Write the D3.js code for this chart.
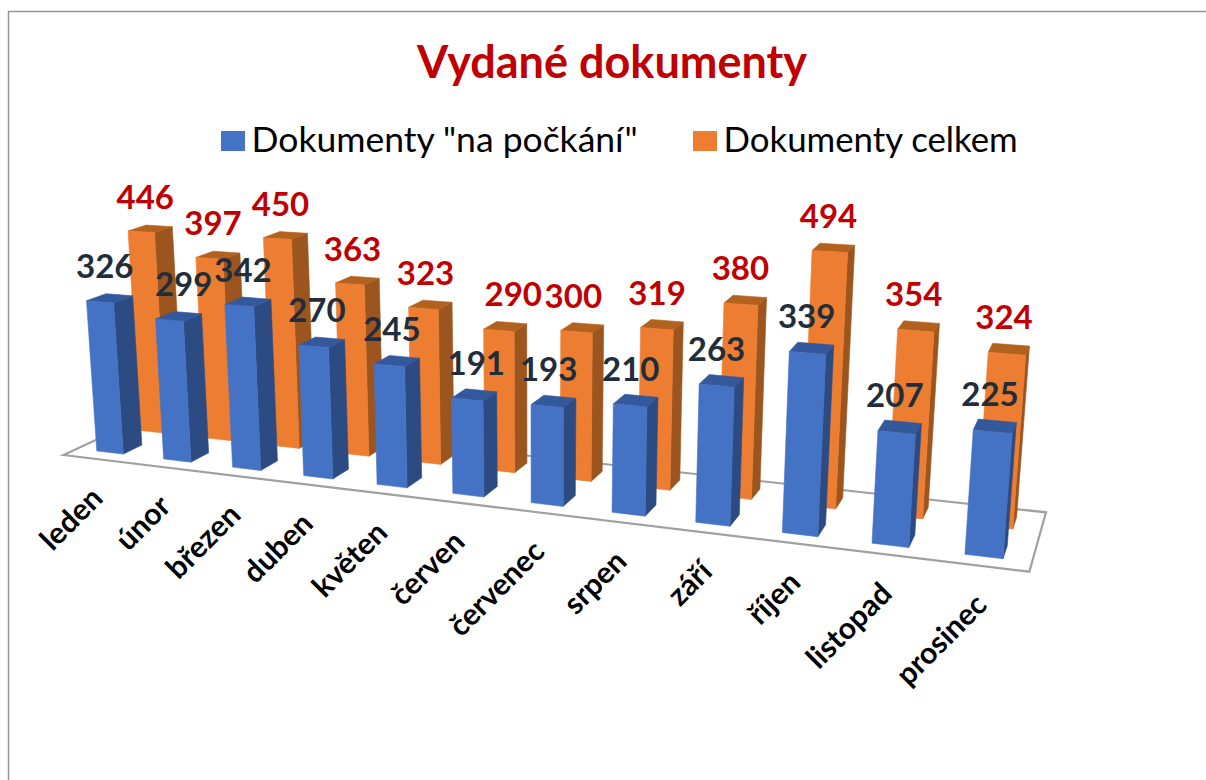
<!DOCTYPE html>
<html>
<head>
<meta charset="utf-8">
<script src="https://cdn.jsdelivr.net/npm/d3@7"></script>
<style>
  body { margin: 0; background: #fff; }
  text { font-family: Lato, sans-serif; }
</style>
</head>
<body>
<svg></svg>
<script>
// Data
const months = ["leden", "únor", "březen", "duben", "květen", "červen", "červenec", "srpen", "září", "říjen", "listopad", "prosinec"];
const seriesNames = ['Dokumenty "na počkání"', "Dokumenty celkem"];
const onDemand = [326, 299, 342, 270, 245, 191, 193, 210, 263, 339, 207, 225];
const total = [446, 397, 450, 363, 323, 290, 300, 319, 380, 494, 354, 324];

const width = 1206;
const height = 780;

const svg = d3.select("svg")
  .attr("width", width)
  .attr("height", height);

// Scales: position along the floor, depth into the floor, bar height
const x = d3.scaleBand().domain(months).range([0, 1]).paddingInner(0.6).paddingOuter(0.3);
const depth = d3.scaleBand().domain(seriesNames).range([0, 1]).paddingInner(0.576).paddingOuter(0.298);
const h = d3.scaleLinear().domain([0, 500]).range([0, 232]);

// Perspective floor: unit square -> four corners of the grey quad
const floor = [[63.3, 455], [1029.3, 571.7], [1046, 512.3], [151, 414.5]];
const vanish = [538, 6900];

const [p0, p1, p2, p3] = floor;
const dx1 = p1[0] - p2[0], dx2 = p3[0] - p2[0], sx = p0[0] - p1[0] + p2[0] - p3[0];
const dy1 = p1[1] - p2[1], dy2 = p3[1] - p2[1], sy = p0[1] - p1[1] + p2[1] - p3[1];
const den = dx1 * dy2 - dx2 * dy1;
const g = (sx * dy2 - dx2 * sy) / den;
const k = (dx1 * sy - sx * dy1) / den;

// u, v on the floor, value above it -> pixel
function project(u, v, value) {
  const w = g * u + k * v + 1;
  const px = (p1[0] - p0[0] + g * p1[0]) * u + (p3[0] - p0[0] + k * p3[0]) * v + p0[0];
  const py = (p1[1] - p0[1] + g * p1[1]) * u + (p3[1] - p0[1] + k * p3[1]) * v + p0[1];
  const fx = px / w, fy = py / w;
  const len = Math.hypot(fx - vanish[0], fy - vanish[1]);
  // heights shrink a bit less with depth than the floor does
  const rise = h(value) / (g * u + 0.75 * k * v + 1);
  return [fx + (fx - vanish[0]) / len * rise, fy + (fy - vanish[1]) / len * rise];
}

const poly = pts => d3.line()(pts) + "Z";

const styles = [
  { front: "#4472c4", side: "#2c4b83", top: "#34589c", label: "#222d3b", values: onDemand },
  { front: "#ed7d31", side: "#9c551f", top: "#b3611f", label: "#c00000", values: total }
];

// Labels that were dragged sideways in the original
const labelShift = { 299: 10, 290: 13, 191: 7, 300: -4 };

// Floor
svg.append("path")
  .attr("d", poly(floor))
  .attr("fill", "none")
  .attr("stroke", "#a0a0a0")
  .attr("stroke-width", 2.2);

// Back row first so the front row covers it
const bars = svg.append("g");
const labels = svg.append("g");

function face(parent, color, pts) {
  parent.append("path")
    .attr("fill", color)
    .attr("stroke", color)
    .attr("stroke-width", 0.6)
    .attr("d", poly(pts));
}

[1, 0].forEach(s => {
  const st = styles[s];
  const v0 = depth(seriesNames[s]);
  const v1 = v0 + depth.bandwidth();
  months.forEach((m, i) => {
    const u0 = x(m);
    const u1 = u0 + x.bandwidth();
    const val = st.values[i];
    const bar = bars.append("g");
    face(bar, st.side, [project(u1, v0, 0), project(u1, v1, 0), project(u1, v1, val), project(u1, v0, val)]);
    face(bar, st.top, [project(u0, v0, val), project(u1, v0, val), project(u1, v1, val), project(u0, v1, val)]);
    face(bar, st.front, [project(u0, v0, 0), project(u1, v0, 0), project(u1, v0, val), project(u0, v0, val)]);

    const c = project((u0 + u1) / 2, (v0 + v1) / 2, val);
    labels.append("text")
      .attr("x", c[0] - 5 + (labelShift[val] || 0))
      .attr("y", c[1] - 20)
      .attr("text-anchor", "middle")
      .attr("font-size", 33)
      .attr("font-weight", 700)
      .attr("fill", st.label)
      .text(val);
  });
});

// Month labels
months.forEach(m => {
  const p = project(x(m) + x.bandwidth() / 2, 0, 0);
  svg.append("text")
    .attr("transform", `translate(${p[0] + 8}, ${p[1] + 41}) rotate(-45)`)
    .attr("text-anchor", "end")
    .attr("font-size", 30)
    .attr("font-weight", 700)
    .attr("fill", "#000")
    .text(m);
});

// Title
svg.append("text")
  .attr("x", 612)
  .attr("y", 78)
  .attr("text-anchor", "middle")
  .attr("font-size", 45)
  .attr("font-weight", 700)
  .attr("fill", "#c00000")
  .text("Vydané dokumenty");

// Legend
const legendX = [221, 693];
const legendSize = [35.5, 34.8];
seriesNames.forEach((name, s) => {
  svg.append("rect")
    .attr("x", legendX[s])
    .attr("y", 131)
    .attr("width", 24)
    .attr("height", 20)
    .attr("fill", styles[s].front);
  svg.append("text")
    .attr("x", legendX[s] + 30.5)
    .attr("y", 152)
    .attr("font-size", legendSize[s])
    .attr("fill", "#000")
    .text(name);
});

// Outer frame, only top and left show
svg.append("path")
  .attr("d", `M8.5,${height}V11.5H${width}`)
  .attr("fill", "none")
  .attr("stroke", "#969696")
  .attr("stroke-width", 1.5);
</script>
</body>
</html>
